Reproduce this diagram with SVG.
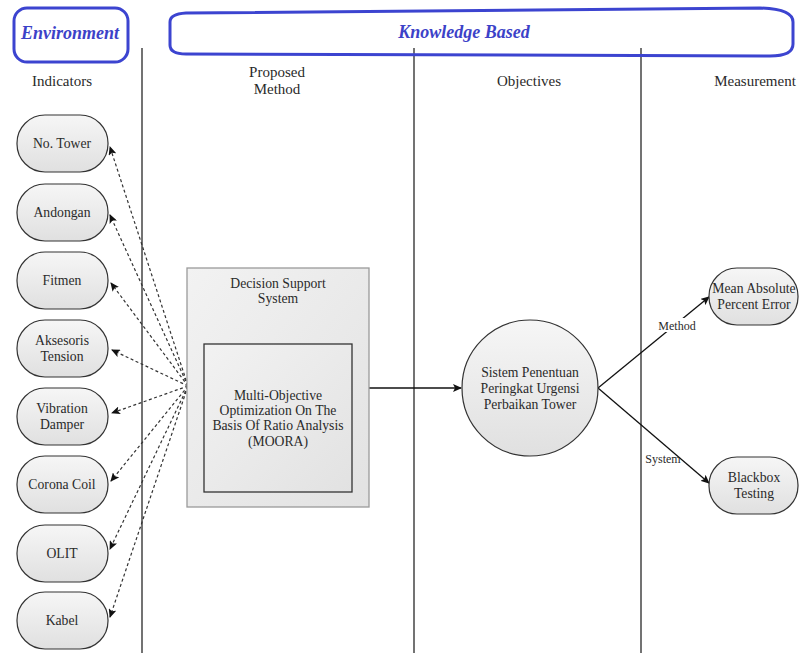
<svg xmlns="http://www.w3.org/2000/svg" width="799" height="653" viewBox="0 0 799 653" font-family="'Liberation Serif', 'DejaVu Serif', serif">
<defs>
<linearGradient id="g" x1="0" y1="0" x2="0" y2="1"><stop offset="0" stop-color="#f6f6f6"/><stop offset="1" stop-color="#e0e0e0"/></linearGradient>
<linearGradient id="g2" x1="0" y1="0" x2="1" y2="1"><stop offset="0" stop-color="#f2f2f2"/><stop offset="1" stop-color="#e2e2e2"/></linearGradient>
<marker id="ah" markerWidth="9" markerHeight="8" refX="8" refY="4" orient="auto" markerUnits="userSpaceOnUse"><path d="M0,0 L9,4 L0,8 L2,4 Z" fill="#111"/></marker>
<style>
text{font-family:'Liberation Serif','DejaVu Serif',serif;fill:#2a2a2a;text-anchor:middle}
.hd{font-size:15px}
.nt{font-size:13.7px}
.lb{font-size:12px}
.bl{font-size:18px;font-weight:bold;font-style:italic;fill:#3c42c8}
.node{fill:url(#g);stroke:#333;stroke-width:1.2}
.dash{fill:none;stroke:#333;stroke-width:1.2;stroke-dasharray:3,2.5}
.solid{fill:none;stroke:#111;stroke-width:1.3}
.col{stroke:#444;stroke-width:1.5}
.blue{fill:none;stroke:#3c44d0;stroke-width:3}
</style>
</defs>
<rect width="799" height="653" fill="#fff"/>

<g id="lanes">
<line class="col" x1="142" y1="48" x2="142" y2="653"/>
<line class="col" x1="414" y1="48" x2="414" y2="653"/>
<line class="col" x1="641" y1="48" x2="641" y2="653"/>
</g>

<g id="environment">
<rect class="blue" x="14" y="8" width="114" height="54" rx="13"/>
<text class="bl" x="70" y="39">Environment</text>
</g>
<g id="knowledge">
<path class="blue" d="M186,13 L760,8 Q793,9 793,22 L793,44 Q793,56 770,56 L186,54 Q170,54 170,45 L170,22 Q170,14 186,13 Z"/>
<text class="bl" x="464" y="38">Knowledge Based</text>
</g>

<g id="headers">
<text class="hd" x="62" y="86">Indicators</text>
<text class="hd" x="277" y="77">Proposed</text>
<text class="hd" x="277" y="94">Method</text>
<text class="hd" x="529" y="86">Objectives</text>
<text class="hd" x="755" y="86">Measurement</text>
</g>

<g id="connectors">
<line class="dash" x1="188" y1="386" x2="110" y2="147" marker-end="url(#ah)"/>
<line class="dash" x1="188" y1="386" x2="110" y2="215" marker-end="url(#ah)"/>
<line class="dash" x1="188" y1="386" x2="111" y2="283" marker-end="url(#ah)"/>
<line class="dash" x1="188" y1="386" x2="112" y2="350" marker-end="url(#ah)"/>
<line class="dash" x1="188" y1="386" x2="112" y2="413" marker-end="url(#ah)"/>
<line class="dash" x1="188" y1="386" x2="111" y2="481" marker-end="url(#ah)"/>
<line class="dash" x1="188" y1="386" x2="110" y2="549" marker-end="url(#ah)"/>
<line class="dash" x1="188" y1="386" x2="110" y2="617" marker-end="url(#ah)"/>
<line class="solid" x1="369" y1="388" x2="461" y2="388" marker-end="url(#ah)"/>
<line class="solid" x1="598" y1="388" x2="709" y2="297" marker-end="url(#ah)"/>
<line class="solid" x1="598" y1="388" x2="709" y2="483" marker-end="url(#ah)"/>
<rect x="656" y="318" width="42" height="14" fill="#fff"/>
<text class="lb" x="677" y="330">Method</text>
<text class="lb" x="663" y="463">System</text>
</g>

<g id="n-no-tower"><rect class="node" x="17" y="115" width="91" height="57" rx="28"/><text class="nt" x="62" y="148">No. Tower</text></g>
<g id="n-andongan"><rect class="node" x="17" y="184" width="91" height="57" rx="28"/><text class="nt" x="62" y="217">Andongan</text></g>
<g id="n-fitmen"><rect class="node" x="17" y="252" width="91" height="57" rx="28"/><text class="nt" x="62" y="285">Fitmen</text></g>
<g id="n-aksesoris"><rect class="node" x="17" y="320" width="91" height="57" rx="28"/><text class="nt" x="62" y="345">Aksesoris</text><text class="nt" x="62" y="361">Tension</text></g>
<g id="n-vibration"><rect class="node" x="17" y="388" width="91" height="57" rx="28"/><text class="nt" x="62" y="413">Vibration</text><text class="nt" x="62" y="429">Damper</text></g>
<g id="n-corona"><rect class="node" x="17" y="456" width="91" height="57" rx="28"/><text class="nt" x="62" y="489">Corona Coil</text></g>
<g id="n-olit"><rect class="node" x="17" y="525" width="91" height="57" rx="28"/><text class="nt" x="62" y="558">OLIT</text></g>
<g id="n-kabel"><rect class="node" x="17" y="592" width="91" height="57" rx="28"/><text class="nt" x="62" y="625">Kabel</text></g>

<g id="n-dss">
<rect x="187" y="268" width="182" height="239" fill="url(#g2)" stroke="#9a9a9a" stroke-width="1.3"/>
<text class="nt" x="278" y="288">Decision Support</text>
<text class="nt" x="278" y="303">System</text>
</g>
<g id="n-moora">
<rect x="204" y="344" width="148" height="148" fill="url(#g2)" stroke="#333" stroke-width="1.3"/>
<text class="nt" x="278" y="400">Multi-Objective</text>
<text class="nt" x="278" y="415">Optimization On The</text>
<text class="nt" x="278" y="430">Basis Of Ratio Analysis</text>
<text class="nt" x="278" y="446">(MOORA)</text>
</g>

<g id="n-sistem">
<circle cx="530" cy="388" r="68" class="node"/>
<text class="nt" x="530" y="377">Sistem Penentuan</text>
<text class="nt" x="530" y="393">Peringkat Urgensi</text>
<text class="nt" x="530" y="409">Perbaikan Tower</text>
</g>

<g id="n-mape">
<rect class="node" x="709" y="268" width="89" height="57" rx="28"/>
<text class="nt" x="754" y="293">Mean Absolute</text>
<text class="nt" x="754" y="309">Percent Error</text>
</g>
<g id="n-blackbox">
<rect class="node" x="709" y="457" width="89" height="57" rx="28"/>
<text class="nt" x="754" y="482">Blackbox</text>
<text class="nt" x="754" y="498">Testing</text>
</g>
</svg>
